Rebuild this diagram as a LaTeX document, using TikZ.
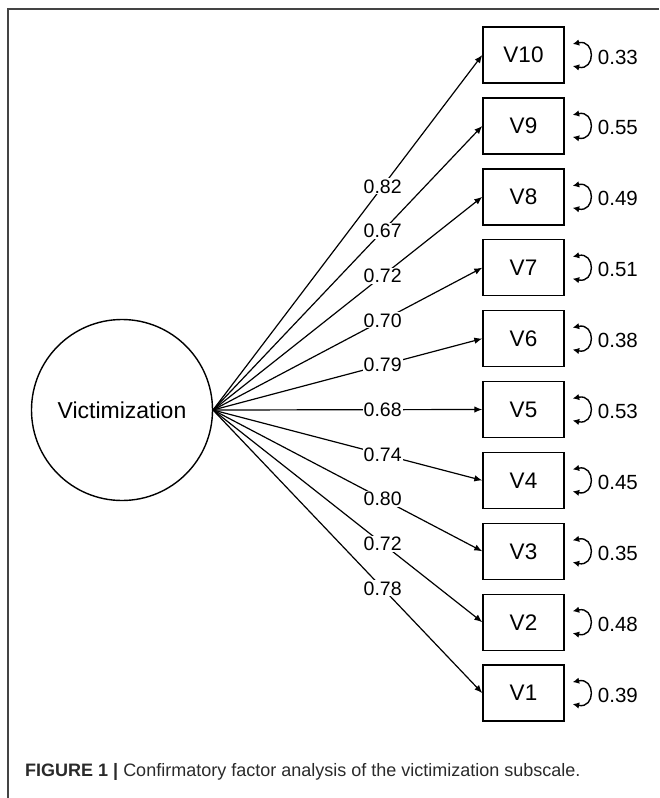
\documentclass[tikz,border=0pt]{standalone}
\usepackage{fontspec}
\setmainfont{Liberation Sans}
\usetikzlibrary{arrows.meta,calc}
\definecolor{framegray}{HTML}{444444}
\definecolor{captext}{HTML}{2A2A2A}
\tikzset{
  obsbox/.style={draw, line width=1.4pt, minimum width=81pt, minimum height=56pt, inner sep=0pt, font=\fontsize{22.5}{24}\selectfont},
  latent/.style={draw, circle, line width=1.4pt, minimum size=181pt, inner sep=0pt, font=\fontsize{23}{24}\selectfont},
  loadarrow/.style={line width=1.2pt, -{Latex[length=8pt,width=6.5pt]}},
  loadlabel/.style={pos=0.63, fill=white, inner sep=1pt, font=\fontsize{19.5}{20}\selectfont},
  resarrow/.style={line width=1.4pt, {Latex[length=6.5pt,width=6.5pt]}-{Latex[length=6.5pt,width=6.5pt]}},
  reslabel/.style={anchor=west, inner sep=0pt, font=\fontsize{20.5}{22}\selectfont},
  frameline/.style={draw=framegray, line width=1.4pt}
}
\begin{document}
\begin{tikzpicture}[x=1pt,y=-1pt]
\useasboundingbox (0,0) rectangle (659,798);
\coordinate (ftl) at (8,9);
\coordinate (ftr) at (659,9);
\coordinate (fbl) at (8,798);
\draw[frameline] (fbl) -- (ftl) -- (ftr);

\node[latent] (f) at (122,410) {Victimization};
\coordinate (fe) at (213,410);

\foreach \i/\k/\lam/\res in {10/0/0.82/0.33, 9/1/0.67/0.55, 8/2/0.72/0.49, 7/3/0.70/0.51, 6/4/0.79/0.38, 5/5/0.68/0.53, 4/6/0.74/0.45, 3/7/0.80/0.35, 2/8/0.72/0.48, 1/9/0.78/0.39}{
  \node[obsbox] (v\i) at (523.5,{55+70.9*\k}) {V\i};
  \draw[loadarrow] (fe) -- (v\i.west) node[loadlabel] {\lam};
  \draw[resarrow] ($(v\i.east)+(8,-11)$) .. controls ($(v\i.east)+(31,-16)$) and ($(v\i.east)+(31,16)$) .. ($(v\i.east)+(8,11)$);
  \node[reslabel] (r\i) at ($(v\i.east)+(33,2)$) {\res};
}

\node[anchor=west, inner sep=0pt, text=captext, font=\fontsize{18}{20}\selectfont] (cap) at (25,772) {\textbf{FIGURE 1 |} Confirmatory factor analysis of the victimization subscale.};
\end{tikzpicture}
\end{document}
